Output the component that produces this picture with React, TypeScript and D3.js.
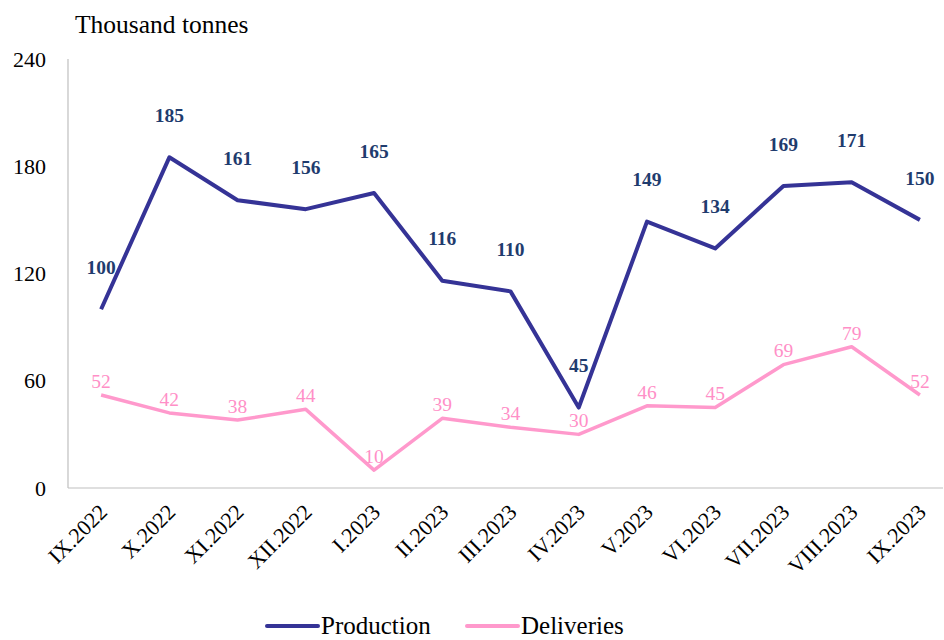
import { useEffect, useRef } from 'react'
import * as d3 from 'd3'

const months = ['IX.2022', 'X.2022', 'XI.2022', 'XII.2022', 'I.2023', 'II.2023', 'III.2023', 'IV.2023', 'V.2023', 'VI.2023', 'VII.2023', 'VIII.2023', 'IX.2023']
const production = [100, 185, 161, 156, 165, 116, 110, 45, 149, 134, 169, 171, 150]
const deliveries = [52, 42, 38, 44, 10, 39, 34, 30, 46, 45, 69, 79, 52]
const yTicks = [0, 60, 120, 180, 240]

const width = 944
const height = 640

export default function App() {
  const svgRef = useRef<SVGSVGElement>(null)

  useEffect(() => {
    if (!svgRef.current) return
    const svg = d3.select(svgRef.current)
    svg.selectAll('*').remove()

    const font = '"Liberation Serif", "Times New Roman", serif'
    const left = 68
    const top = 59
    const bottom = 488

    const x = d3.scaleBand<string>().domain(months).range([67, 954])
    const cx = (m: string) => (x(m) as number) + x.bandwidth() / 2
    const y = d3.scaleLinear().domain([0, 240]).range([bottom, top])

    // axes
    svg.append('line').attr('x1', left).attr('x2', left).attr('y1', top).attr('y2', bottom)
      .attr('stroke', '#bfbfbf').attr('stroke-width', 1.2)
    svg.append('line').attr('x1', left).attr('x2', 943).attr('y1', bottom).attr('y2', bottom)
      .attr('stroke', '#bfbfbf').attr('stroke-width', 1.2)

    svg.append('g').selectAll('text').data(yTicks).join('text')
      .attr('x', 46).attr('y', d => y(d)).attr('dy', '0.35em')
      .attr('text-anchor', 'end').attr('font-family', font).attr('font-size', 22)
      .attr('fill', '#000').text(d => d)

    svg.append('g').selectAll('text').data(months).join('text')
      .attr('transform', d => `translate(${cx(d) + 2},${bottom + 20}) rotate(-45)`)
      .attr('text-anchor', 'end').attr('dy', '0.35em')
      .attr('font-family', font).attr('font-size', 22).attr('fill', '#000').text(d => d)

    svg.append('text').attr('x', 75).attr('y', 33)
      .attr('font-family', font).attr('font-size', 25.5).attr('fill', '#000').text('Thousand tonnes')

    const line = d3.line<number>().x((_, i) => cx(months[i])).y(d => y(d))

    svg.append('path').datum(deliveries).attr('d', line)
      .attr('fill', 'none').attr('stroke', '#ff99cc').attr('stroke-width', 3.5).attr('stroke-linejoin', 'round')
    svg.append('path').datum(production).attr('d', line)
      .attr('fill', 'none').attr('stroke', '#353396').attr('stroke-width', 4).attr('stroke-linejoin', 'round')

    // data labels
    svg.append('g').selectAll('text').data(production).join('text')
      .attr('x', (_, i) => cx(months[i])).attr('y', d => y(d) - 42).attr('dy', '0.35em')
      .attr('text-anchor', 'middle').attr('font-family', font).attr('font-size', 19.5)
      .attr('font-weight', 'bold').attr('fill', '#1f3c6e').text(d => d)

    svg.append('g').selectAll('text').data(deliveries).join('text')
      .attr('x', (_, i) => cx(months[i])).attr('y', d => y(d) - 14).attr('dy', '0.35em')
      .attr('text-anchor', 'middle').attr('font-family', font).attr('font-size', 19.5)
      .attr('fill', '#ff8fc7').text(d => d)

    // legend
    const legend = [
      { name: 'Production', color: '#353396', x: 267 },
      { name: 'Deliveries', color: '#ff99cc', x: 467 },
    ]
    const lg = svg.append('g')
    legend.forEach(l => {
      lg.append('line').attr('x1', l.x).attr('x2', l.x + 51).attr('y1', 626).attr('y2', 626)
        .attr('stroke', l.color).attr('stroke-width', 4).attr('stroke-linecap', 'round')
      lg.append('text').attr('x', l.x + 54).attr('y', 626).attr('dy', '0.32em')
        .attr('font-family', font).attr('font-size', 25).attr('fill', '#000').text(l.name)
    })
  }, [])

  return (
    <svg ref={svgRef} width={width} height={height}
      style={{ position: 'absolute', left: 0, top: 0, background: '#fff' }} />
  )
}
